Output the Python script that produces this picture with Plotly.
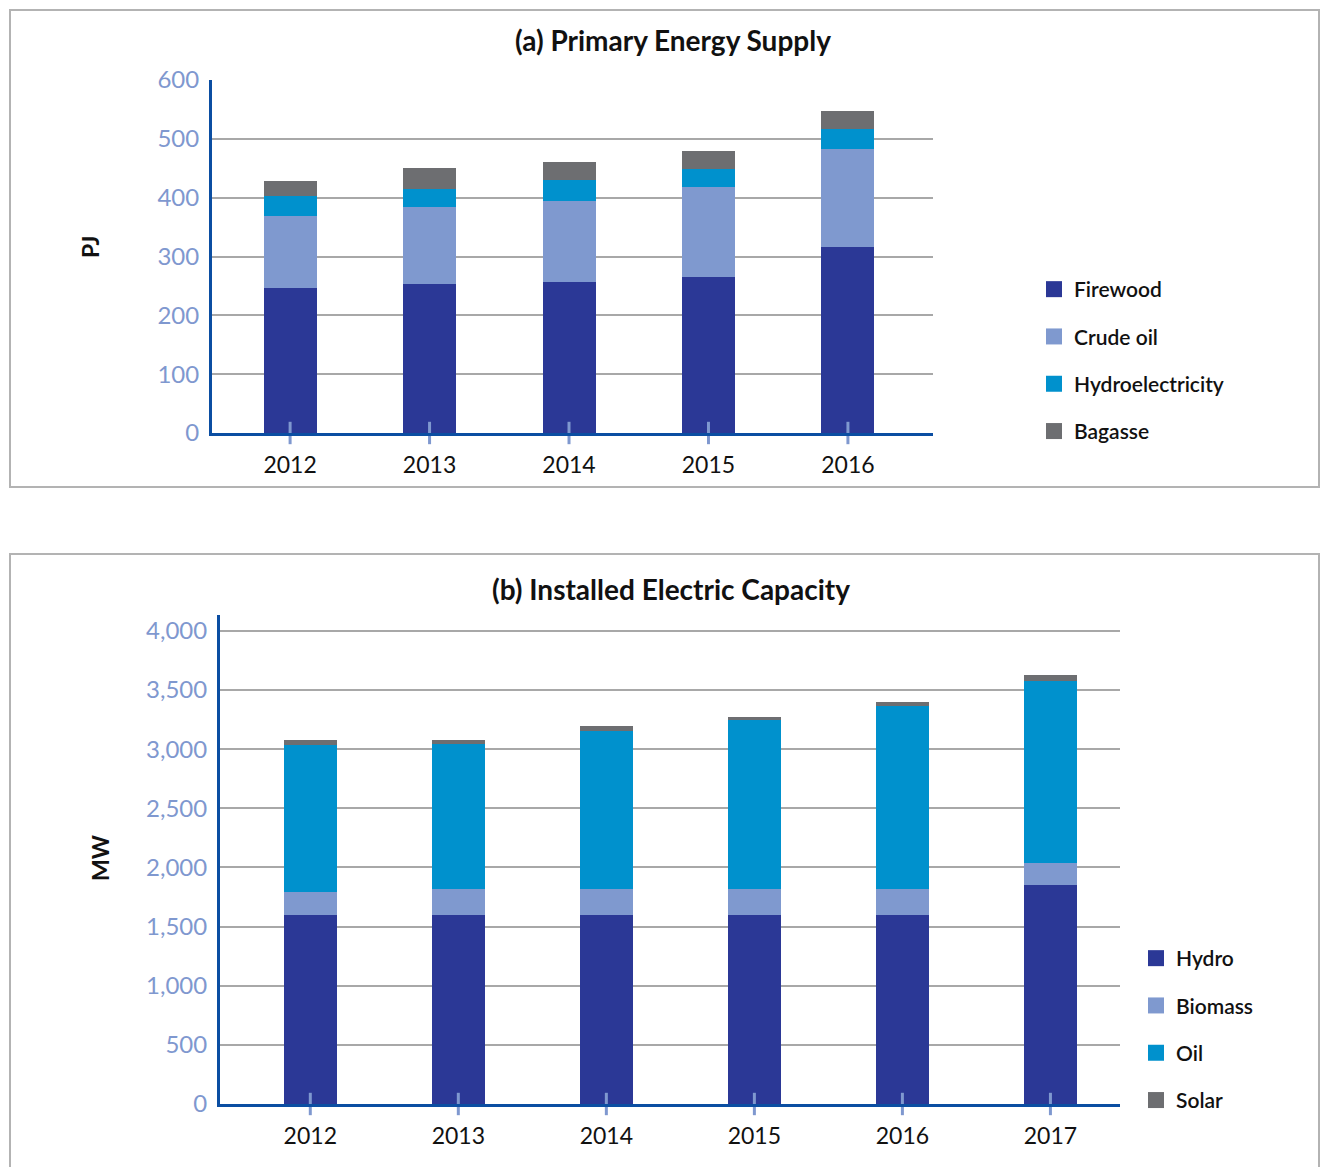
import plotly.graph_objects as go

W, H = 1320, 1167

# ---- Panel (a) data ----
years_a = ["2012", "2013", "2014", "2015", "2016"]
firewood = [247, 254, 257, 265, 317]
crude_oil = [122, 130, 137, 153, 166]
hydroelectricity = [33, 31, 36, 31, 33]
bagasse = [26, 35, 31, 31, 31]

# ---- Panel (b) data ----
years_b = ["2012", "2013", "2014", "2015", "2016", "2017"]
hydro = [1600, 1600, 1600, 1600, 1600, 1850]
biomass = [195, 215, 215, 215, 215, 188]
oil = [1241, 1231, 1337, 1431, 1549, 1535]
solar = [39, 30, 42, 27, 36, 54]

yticks_a = [0, 100, 200, 300, 400, 500, 600]
yticks_b = [0, 500, 1000, 1500, 2000, 2500, 3000, 3500, 4000]

C_DARK = "#2b3896"
C_LIGHT = "#7f99cf"
C_CYAN = "#0091cd"
C_GREY = "#6d6e71"
AXIS_BLUE = "#0b4ea2"
TICK_BLUE = "#7f98cf"
GRID = "#a8a8a8"
FONT = "Lato"


def px(x):
    return x / W


def py(y):
    return 1 - y / H


fig = go.Figure()

series_a = [("Firewood", firewood, C_DARK), ("Crude oil", crude_oil, C_LIGHT),
            ("Hydroelectricity", hydroelectricity, C_CYAN), ("Bagasse", bagasse, C_GREY)]
series_b = [("Hydro", hydro, C_DARK), ("Biomass", biomass, C_LIGHT),
            ("Oil", oil, C_CYAN), ("Solar", solar, C_GREY)]

for i, (name, vals, col) in enumerate(series_a):
    fig.add_trace(go.Bar(x=years_a, y=vals, name=name, marker_color=col, marker_line_width=0,
                         width=0.38, xaxis="x", yaxis="y", showlegend=False))
for i, (name, vals, col) in enumerate(series_b):
    fig.add_trace(go.Bar(x=years_b, y=vals, name=name, marker_color=col, marker_line_width=0,
                         width=0.36, xaxis="x2", yaxis="y2", showlegend=False))

# legend entries with larger square swatches
for i, (name, vals, col) in enumerate(series_a):
    fig.add_trace(go.Scatter(x=[None], y=[None], mode="markers", name=name, xaxis="x", yaxis="y",
                             marker=dict(symbol="square", size=16, color=col),
                             legend="legend", legendgroup="a" + str(i)))
for i, (name, vals, col) in enumerate(series_b):
    fig.add_trace(go.Scatter(x=[None], y=[None], mode="markers", name=name, xaxis="x2", yaxis="y2",
                             marker=dict(symbol="square", size=16, color=col),
                             legend="legend2", legendgroup="b" + str(i)))

# category tick marks crossing the x axis
fig.add_trace(go.Scatter(x=years_a, y=[0] * len(years_a), mode="markers", xaxis="x", yaxis="y",
                         marker=dict(symbol="line-ns", size=16, line=dict(width=3, color=TICK_BLUE)),
                         showlegend=False, hoverinfo="skip", cliponaxis=False))
fig.add_trace(go.Scatter(x=years_b, y=[0] * len(years_b), mode="markers", xaxis="x2", yaxis="y2",
                         marker=dict(symbol="line-ns", size=16, line=dict(width=3, color=TICK_BLUE)),
                         showlegend=False, hoverinfo="skip", cliponaxis=False))

xaxis_common = dict(type="category", showline=True, linecolor=AXIS_BLUE, linewidth=3,
                    showgrid=False, zeroline=False, ticks="", automargin=False,
                    tickfont=dict(family=FONT, size=23, color="#111111"),
                    ticklabelstandoff=9, fixedrange=True)
yaxis_common = dict(showline=True, linecolor=AXIS_BLUE, linewidth=3, showgrid=True,
                    gridcolor=GRID, gridwidth=1.5, zeroline=False, ticks="", automargin=False,
                    tickfont=dict(family=FONT, size=24, color=TICK_BLUE),
                    ticklabelstandoff=5, fixedrange=True)

legend_common = dict(font=dict(family=FONT, size=21, color="#111111", weight=600),
                     traceorder="grouped", tracegroupgap=17, bgcolor="rgba(0,0,0,0)",
                     itemclick=False, itemdoubleclick=False, itemsizing="trace",
                     xanchor="left", yanchor="top")

fig.update_layout(
    width=W, height=H, margin=dict(l=0, r=0, t=0, b=0, autoexpand=False),
    paper_bgcolor="white", plot_bgcolor="white",
    barmode="stack", bargap=0,
    font=dict(family=FONT),
    xaxis=dict(domain=[px(212), px(933)], anchor="y", range=[-0.56, 4.61], **xaxis_common),
    yaxis=dict(domain=[py(433), py(80)], anchor="x", range=[0, 600], tickvals=yticks_a, **yaxis_common),
    xaxis2=dict(domain=[px(220), px(1120)], anchor="y2", range=[-0.61, 5.47], **xaxis_common),
    yaxis2=dict(domain=[py(1104), py(615)], anchor="x2", range=[0, 4135], tickvals=yticks_b,
                tickformat=",", **yaxis_common),
    legend=dict(x=px(1034), y=py(269), **legend_common),
    legend2=dict(x=px(1136), y=py(938), **legend_common),
    showlegend=True,
)

# panel frames
fig.add_shape(type="rect", xref="paper", yref="paper", x0=px(10), x1=px(1319), y0=py(487), y1=py(10),
              line=dict(color="#b3b3b3", width=2), layer="below")
fig.add_shape(type="rect", xref="paper", yref="paper", x0=px(10), x1=px(1319), y0=py(1175), y1=py(554),
              line=dict(color="#b3b3b3", width=2), layer="below")

# titles
fig.add_annotation(text="<b>(a) Primary Energy Supply</b>", xref="paper", yref="paper",
                   x=px(673), y=py(40), showarrow=False, xanchor="center", yanchor="middle",
                   font=dict(family=FONT, size=28, color="#111111"))
fig.add_annotation(text="<b>(b) Installed Electric Capacity</b>", xref="paper", yref="paper",
                   x=px(671), y=py(589), showarrow=False, xanchor="center", yanchor="middle",
                   font=dict(family=FONT, size=28, color="#111111"))
fig.add_annotation(text="<b>PJ</b>", xref="paper", yref="paper", x=px(90), y=py(247),
                   showarrow=False, textangle=-90, xanchor="center", yanchor="middle",
                   font=dict(family=FONT, size=23, color="#111111"))
fig.add_annotation(text="<b>MW</b>", xref="paper", yref="paper", x=px(100), y=py(858),
                   showarrow=False, textangle=-90, xanchor="center", yanchor="middle",
                   font=dict(family=FONT, size=23, color="#111111"))

# remove default page margin so the figure fills the window exactly
page_css = "document.documentElement.style.margin='0';document.body.style.margin='0';"

fig.write_html("out.html", post_script=page_css, config={"displayModeBar": False})
